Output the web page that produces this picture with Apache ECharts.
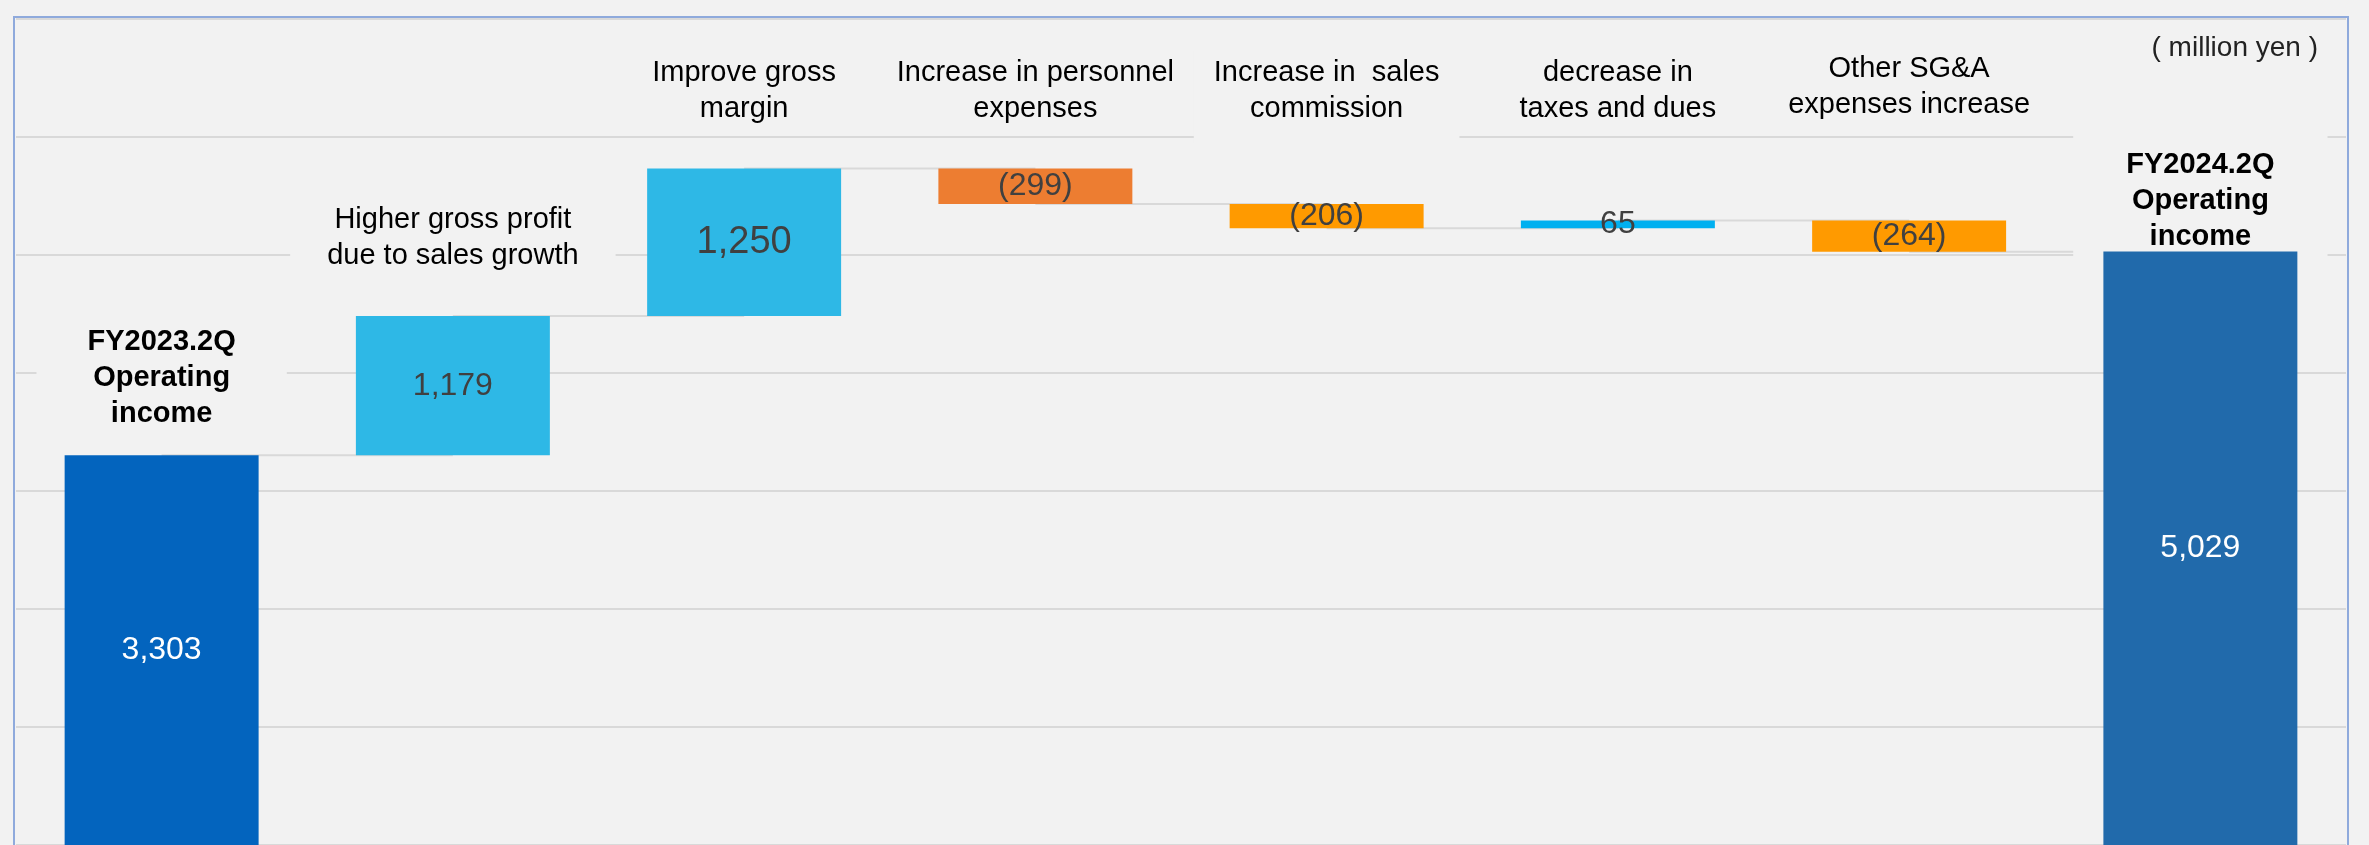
<!DOCTYPE html>
<html>
<head>
<meta charset="utf-8">
<script src="https://cdn.jsdelivr.net/npm/echarts@6/dist/echarts.min.js"></script>
<style>
  html, body { margin: 0; padding: 0; background: #f2f2f2; }
  #chart { width: 2369px; height: 845px; }
</style>
</head>
<body>
<div id="chart"></div>
<script>
// ---- data ----
const categories = [
  'FY2023.2Q\nOperating\nincome',
  'Higher gross profit\ndue to sales growth',
  'Improve gross\nmargin',
  'Increase in personnel\nexpenses',
  'Increase in  sales\ncommission',
  'decrease in\ntaxes and dues',
  'Other SG&A\nexpenses increase',
  'FY2024.2Q\nOperating\nincome'
];
const changes = [3303, 1179, 1250, -299, -206, 65, -264, 5029];
const isTotal = [true, false, false, false, false, false, false, true];
const unitText = '( million yen )';
const yMin = 0, yMax = 7000, yStep = 1000;

// ---- styling ----
const FONT = "'Liberation Sans', Arial, sans-serif";
const barColors = ['#0364be', '#2eb8e6', '#2eb8e6', '#ed7d31', '#ff9a00', '#00b0f0', '#ff9a00', '#216aab'];
const valueFontSize = [32, 32, 38, 32, 32, 32, 32, 32];
const catGap = [23, 42, 42, 42, 77, 94, 98, -3];       // space between bar top and caption text
const catPad = [[4, 51, 4, 51], [4, 37, 4, 37], [4, 10, 4, 10], [4, 10, 4, 10],
                [4, 20, 16, 20], [4, 10, 4, 10], [4, 10, 4, 10], [12, 53, 10, 53]];

// ---- waterfall geometry from the changes ----
const bases = [], heights = [], tops = [], levels = [];
let level = 0;
changes.forEach((v, i) => {
  if (isTotal[i]) {
    bases.push(0); heights.push(v); tops.push(v); level = v;
  } else {
    const next = level + v;
    bases.push(Math.min(level, next));
    heights.push(Math.abs(v));
    tops.push(Math.max(level, next));
    level = next;
  }
  levels.push(level);
});

const fmt = (v, total) => {
  const s = Math.abs(v).toLocaleString('en-US');
  return (!total && v < 0) ? '(' + s + ')' : s;
};

const chart = echarts.init(document.getElementById('chart'), null, { renderer: 'canvas' });

const option = {
  backgroundColor: '#f2f2f2',
  animation: false,
  grid: { left: 16, right: 23, top: 19, bottom: 0 },
  xAxis: {
    type: 'category',
    data: categories,
    axisLine: { show: false },
    axisTick: { show: false },
    axisLabel: { show: false }
  },
  yAxis: {
    type: 'value',
    min: yMin, max: yMax, interval: yStep,
    axisLine: { show: false },
    axisTick: { show: false },
    axisLabel: { show: false },
    splitLine: { lineStyle: { color: '#d9d9d9', width: 2 } }
  },
  graphic: [
    {
      type: 'rect', z: 100, silent: true,
      shape: { x: 14, y: 17, width: 2334, height: 900 },
      style: { fill: 'none', stroke: '#8faadc', lineWidth: 2 }
    },
    {
      type: 'text', z: 100, silent: true,
      x: 2318, y: 48,
      style: { text: unitText, font: '28px ' + FONT, fill: '#222', align: 'right', verticalAlign: 'middle' }
    }
  ],
  series: [
    // connector lines between consecutive bars
    {
      type: 'custom', z: 1, silent: true,
      data: levels.slice(0, -1).map((lv, i) => [i, lv]),
      renderItem: (params, api) => {
        const i = api.value(0), v = api.value(1);
        const a = api.coord([i, v]), b = api.coord([i + 1, v]);
        return {
          type: 'line',
          shape: { x1: a[0], y1: a[1], x2: b[0], y2: b[1] },
          style: { stroke: '#d9d9d9', lineWidth: 2 }
        };
      }
    },
    // category captions above each bar
    {
      type: 'custom', z: 2, silent: true,
      data: tops.map((t, i) => [i, t]),
      renderItem: (params, api) => {
        const i = api.value(0), t = api.value(1);
        const p = api.coord([i, t]);
        const pad = catPad[i];
        return {
          type: 'text',
          x: p[0],
          y: p[1] - catGap[i] + pad[2],
          style: {
            text: categories[i],
            font: (isTotal[i] ? 'bold ' : '') + '29px ' + FONT,
            fill: '#000',
            align: 'center',
            verticalAlign: 'bottom',
            lineHeight: 36,
            backgroundColor: '#f2f2f2',
            padding: pad
          }
        };
      }
    },
    {
      type: 'bar', stack: 'wf', z: 3, silent: true,
      barWidth: '66.6%',
      itemStyle: { color: 'transparent' },
      data: bases
    },
    {
      type: 'bar', stack: 'wf', z: 3,
      barWidth: '66.6%',
      data: heights.map((h, i) => ({
        value: h,
        itemStyle: { color: barColors[i] },
        label: {
          show: true,
          position: 'inside',
          formatter: () => fmt(changes[i], isTotal[i]),
          fontFamily: FONT,
          fontSize: valueFontSize[i],
          color: isTotal[i] ? '#ffffff' : '#404040'
        }
      }))
    }
  ]
};

chart.setOption(option);
</script>
</body>
</html>
